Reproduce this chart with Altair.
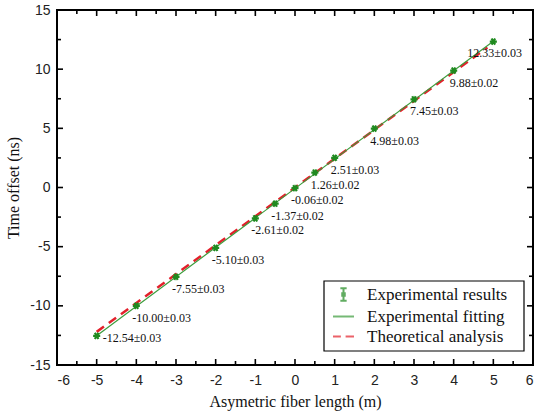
import altair as alt
import pandas as pd

# ---------------- data ----------------
lengths = [-5, -4, -3, -2, -1, -0.5, 0, 0.5, 1, 2, 3, 4, 5]
offsets = [-12.54, -10.00, -7.55, -5.10, -2.61, -1.37, -0.06, 1.26, 2.51, 4.98, 7.45, 9.88, 12.33]
errors = [0.03, 0.03, 0.03, 0.03, 0.02, 0.02, 0.02, 0.02, 0.03, 0.03, 0.03, 0.02, 0.03]

fit_x = [-5, 5]
fit_y = [-12.52, 12.36]
theory_x = [-5, 4.85]
theory_y = [-12.2, 11.83]

x_major = [-6, -5, -4, -3, -2, -1, 0, 1, 2, 3, 4, 5, 6]
x_minor = [-5.5, -4.5, -3.5, -2.5, -1.5, -0.5, 0.5, 1.5, 2.5, 3.5, 4.5, 5.5]
y_major = [-15, -10, -5, 0, 5, 10, 15]
y_minor = [-12.5, -7.5, -2.5, 2.5, 7.5, 12.5]

legend_labels = ["Experimental results", "Experimental fitting", "Theoretical analysis"]

# ---------------- styling ----------------
W, H = 476, 355
GREEN = "#1f8a1f"
LGREEN = "#3c9c3c"
RED = "#e3202b"
SERIF = "Liberation Serif"
SANS = "Liberation Sans"

legend_colors = [GREEN, LGREEN, RED]
legend_paths = [
    "M0,-0.6V0.6M-0.3,-0.6H0.3M-0.3,0.6H0.3M-0.12,-0.12H0.12V0.12H-0.12Z",
    "M-1,0H1",
    "M-1,0H-0.25M0.2,0H1",
]
star_path = "M-1,0H1M-0.5,-0.87L0.5,0.87M-0.5,0.87L0.5,-0.87"

xs = alt.Scale(domain=[-6, 6], nice=False, zero=False)
ys = alt.Scale(domain=[-15, 15], nice=False, zero=False)

df = pd.DataFrame({"x": lengths, "y": offsets, "e": errors})
df["label"] = [f"{v:.2f}\u00b1{e:.2f}" for v, e in zip(offsets, errors)]
df_fit = pd.DataFrame({"x": fit_x, "y": fit_y})
df_th = pd.DataFrame({"x": theory_x, "y": theory_y})

X_AX = alt.Axis(values=x_major, ticks=False, domain=False, grid=False,
                labelFont=SANS, labelFontSize=14, labelColor="#222", labelPadding=8,
                labelExpr="'' + datum.value",
                title="Asymetric fiber length (m)", titleFont=SERIF, titleFontSize=16,
                titleFontWeight="normal", titleColor="#111", titlePadding=6)
Y_AX = alt.Axis(values=y_major, ticks=False, domain=False, grid=False,
                labelFont=SANS, labelFontSize=14, labelColor="#222", labelPadding=7,
                labelExpr="'' + datum.value",
                title="Time offset (ns)", titleFont=SERIF, titleFontSize=16,
                titleFontWeight="normal", titleColor="#111", titlePadding=8)


def X(f):
    return alt.X(f, scale=xs, axis=X_AX)


def Y(f):
    return alt.Y(f, scale=ys, axis=Y_AX)


theory = alt.Chart(df_th).mark_line(color=RED, strokeWidth=2.5, strokeDash=[9, 6]).encode(
    x=X("x:Q"), y=Y("y:Q"))
fit = alt.Chart(df_fit).mark_line(color=LGREEN, strokeWidth=1.2).encode(
    x=X("x:Q"), y=Y("y:Q"))
err = alt.Chart(df).transform_calculate(lo="datum.y - datum.e", hi="datum.y + datum.e").mark_rule(
    color=GREEN, strokeWidth=1.5).encode(x=X("x:Q"), y=Y("lo:Q"), y2="hi:Q")
pts = alt.Chart(df).mark_point(shape=star_path, filled=False, color=GREEN, size=50,
                                strokeWidth=2.2, opacity=1).encode(x=X("x:Q"), y=Y("y:Q"))
txt_kw = dict(font=SERIF, fontSize=12, color="#111", align="left", baseline="middle")
labels_mid = alt.Chart(df).transform_filter("datum.x > -5 && datum.x < 5").mark_text(
    dx=-4, dy=12, **txt_kw).encode(x=X("x:Q"), y=Y("y:Q"), text="label:N")
labels_first = alt.Chart(df).transform_filter("datum.x == -5").mark_text(
    dx=6, dy=2, **txt_kw).encode(x=X("x:Q"), y=Y("y:Q"), text="label:N")
labels_last = alt.Chart(df).transform_filter("datum.x == 5").mark_text(
    dx=-26, dy=11, **txt_kw).encode(x=X("x:Q"), y=Y("y:Q"), text="label:N")


def xticks(vals, length):
    d = pd.DataFrame({"t": vals})
    b = alt.Chart(d).mark_rule(color="black", strokeWidth=1.6)
    bot = b.encode(x=X("t:Q"), y=alt.value(H), y2=alt.value(H - length))
    top = b.encode(x=X("t:Q"), y=alt.value(0), y2=alt.value(length))
    return [bot, top]


def yticks(vals, length):
    d = pd.DataFrame({"t": vals})
    b = alt.Chart(d).mark_rule(color="black", strokeWidth=1.6)
    lef = b.encode(y=Y("t:Q"), x=alt.value(0), x2=alt.value(length))
    rig = b.encode(y=Y("t:Q"), x=alt.value(W), x2=alt.value(W - length))
    return [lef, rig]


ticks = xticks(x_major, 6) + xticks(x_minor, 4) + yticks(y_major, 6) + yticks(y_minor, 4)

# legend frame (box drawn behind the native legend)
LX, LY, LW, LH = 267, 271, 200, 70
frame = alt.Chart(pd.DataFrame({"k": [0]})).mark_rect(
    fill="white", stroke="black", strokeWidth=1.2).encode(
    x=alt.value(LX), x2=alt.value(LX + LW), y=alt.value(LY), y2=alt.value(LY + LH))

leg = alt.Legend(title=None, orient="none", legendX=LX + 4, legendY=LY - 2,
                 padding=4,
                 labelFont=SERIF, labelFontSize=17, labelColor="#111", labelOffset=12,
                 symbolSize=440, symbolStrokeWidth=2, rowPadding=0, labelLimit=300)
dummy = alt.Chart(pd.DataFrame({"s": legend_labels, "x": [100, 100, 100], "y": [100, 100, 100]})).mark_point(
    filled=False, clip=True).encode(
    x=X("x:Q"), y=Y("y:Q"),
    color=alt.Color("s:N", scale=alt.Scale(domain=legend_labels, range=legend_colors), legend=leg),
    shape=alt.Shape("s:N", scale=alt.Scale(domain=legend_labels, range=legend_paths), legend=leg),
)

chart = alt.layer(theory, fit, err, pts, labels_mid, labels_first, labels_last, *ticks, frame, dummy).properties(
    width=W, height=H,
    autosize=alt.AutoSizeParams(type="none"),
    padding={"left": 57, "top": 10, "right": 2, "bottom": 53},
    background="white",
).configure_view(stroke="black", strokeWidth=2)

chart.save("out.html", embed_options={"renderer": "svg", "actions": False})
